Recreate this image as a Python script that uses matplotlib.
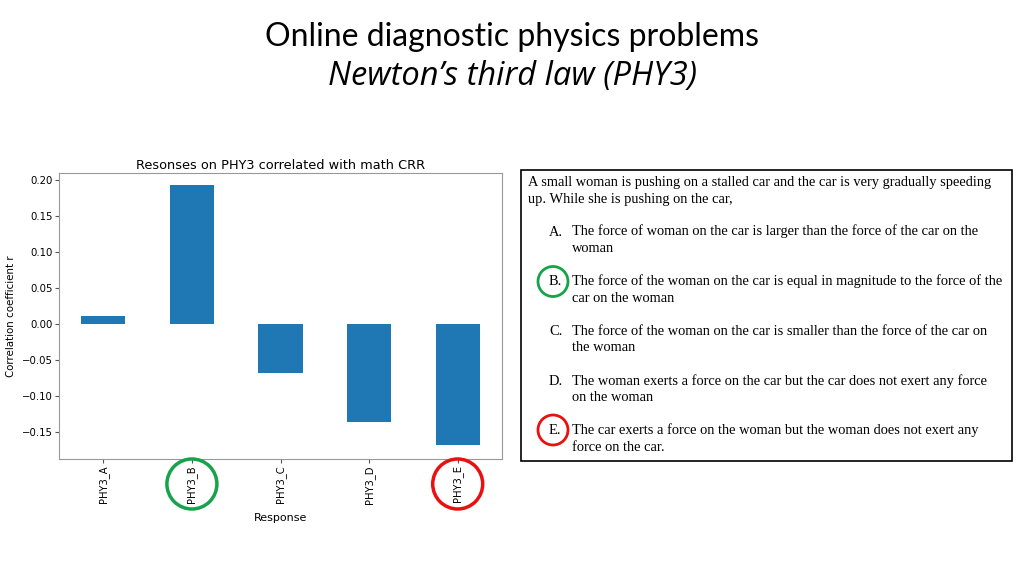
import matplotlib.pyplot as plt
from matplotlib.patches import Circle, Rectangle

W, H = 1024, 576

# data
responses = ["PHY3_A", "PHY3_B", "PHY3_C", "PHY3_D", "PHY3_E"]
corr_r = [0.011, 0.193, -0.067, -0.135, -0.168]
y_ticks = [-0.15, -0.10, -0.05, 0.00, 0.05, 0.10, 0.15, 0.20]

question = ["A small woman is pushing on a stalled car and the car is very gradually speeding",
            "up. While she is pushing on the car,"]
option_letters = ["A.", "B.", "C.", "D.", "E."]
option_lines = [
    ["The force of woman on the car is larger than the force of the car on the", "woman"],
    ["The force of the woman on the car is equal in magnitude to the force of the", "car on the woman"],
    ["The force of the woman on the car is smaller than the force of the car on", "the woman"],
    ["The woman exerts a force on the car but the car does not exert any force", "on the woman"],
    ["The car exerts a force on the woman but the woman does not exert any", "force on the car."],
]
correct = "PHY3_B"
popular_wrong = "PHY3_E"


def px_axes(x0, y0, x1, y1):
    return [x0 / W, 1 - y1 / H, (x1 - x0) / W, (y1 - y0) / H]


fig = plt.figure(figsize=(W / 100, H / 100), dpi=100)

# slide titles
fig.text(0.5, 1 - 37 / H, "Online diagnostic physics problems", ha="center", va="center",
         fontsize=23, family="Lato")
fig.text(0.5, 1 - 76 / H, "Newton\u2019s third law (PHY3)", ha="center", va="center",
         fontsize=23.5, family="Open Sans", style="italic")

# bar chart
ax = fig.add_axes(px_axes(59, 173, 502, 459))
ax.bar(range(len(responses)), corr_r, width=0.5, color="#1f77b4")
ax.set_xlim(-0.5, len(responses) - 0.5)
ax.set_ylim(-0.1867, 0.2093)
ax.set_yticks(y_ticks)
ax.set_yticklabels([f"{v:.2f}".replace("-", "\u2212") for v in y_ticks], fontsize=7.3)
ax.set_xticks(range(len(responses)))
ax.set_xticklabels(responses, rotation=90, fontsize=7.2)
ax.tick_params(length=3, pad=1.5, color="#555555")
ax.set_title("Resonses on PHY3 correlated with math CRR", fontsize=9.3, pad=3)
ax.set_xlabel("Response", fontsize=8, labelpad=7)
ax.set_ylabel("Correlation coefficient r", fontsize=7.4, labelpad=4)
for s in ax.spines.values():
    s.set_color("#999999")

# overlay in pixel coords
ov = fig.add_axes([0, 0, 1, 1])
ov.set_xlim(0, W)
ov.set_ylim(H, 0)
ov.axis("off")
ov.patch.set_alpha(0)

# circles around the tick labels
for name, col in [(correct, "#16a34a"), (popular_wrong, "#e8110f")]:
    i = responses.index(name)
    cx = ax.transData.transform((i, 0))[0]
    ov.add_patch(Circle((cx, 484), 25, fill=False, ec=col, lw=2.5))

# question box
ov.add_patch(Rectangle((521, 170), 491, 291, fill=False, ec="black", lw=1.2))
serif = "Liberation Serif"
fs = 10.4
for k, line in enumerate(question):
    ov.text(528, 186 + k * 16.5, line, fontsize=fs, family=serif, va="baseline")
for k, (letter, lines) in enumerate(zip(option_letters, option_lines)):
    y = 235.5 + k * 49.7
    ov.text(549, y, letter, fontsize=fs, family=serif, va="baseline")
    for j, line in enumerate(lines):
        ov.text(571.5, y + j * 16.5, line, fontsize=fs, family=serif, va="baseline")
ov.add_patch(Circle((553, 281.5), 15, fill=False, ec="#16a34a", lw=2))
ov.add_patch(Circle((553, 430), 15, fill=False, ec="#e8110f", lw=2))

fig.savefig("out.png", dpi=100)
